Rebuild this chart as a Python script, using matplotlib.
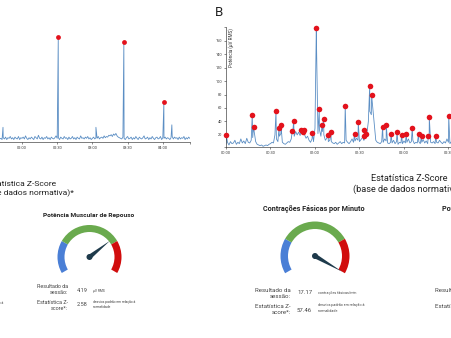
import numpy as np
import matplotlib
matplotlib.use("Agg")
import matplotlib.pyplot as plt
from matplotlib.patches import Wedge, Polygon, Circle
from matplotlib.ticker import FuncFormatter

plt.rcParams['font.family'] = ['Roboto', 'DejaVu Sans']

W, H = 451, 338

# --- session A (left trace), RMS power in uV, one sample per minute from 01:35
left_start = 95
left_base = [
    8, 6, 10, 7, 9, 11, 7, 8, 6, 9,
    7, 10, 6, 9, 8, 11, 7, 9, 6, 10,
    8, 7, 11, 6, 9, 8, 10, 7, 12, 8,
    6, 9, 7, 10, 8, 6, 11, 9, 7, 13,
    8, 7, 10, 6, 9, 8, 11, 7, 9, 6,
    10, 8, 7, 9, 12, 8, 9, 6, 10, 8,
    7, 11, 8, 9, 6, 10, 7, 8, 11, 7,
    9, 6, 10, 8, 7, 12, 8, 9, 7, 10,
    8, 11, 7, 9, 6, 8, 10, 7, 9, 8,
    11, 7, 9, 10, 8, 12, 9, 11, 10, 13,
    12, 14, 11, 15, 13, 16, 12, 10, 9, 8,
    7, 10, 8, 6, 9, 11, 7, 8, 10, 6,
    9, 7, 11, 8, 6, 10, 8, 7, 9, 12,
    7, 8, 10, 6, 9, 7, 11, 8, 6, 9,
    10, 7, 8, 11, 6, 9, 8, 10, 7, 9,
    8, 6, 9, 11, 7, 10, 8, 9, 6, 10,
    7, 9, 8, 11, 6, 9, 7, 10, 8,
]
left_minor_t = [103.8, 183.0, 247.7]
left_minor_v = [26, 26, 30]
left_peak_t = [150.9, 206.8, 240.9]
left_peak_v = [173, 165, 67]
left_ticks = [120, 150, 180, 210, 240]

# --- session B (right trace), one sample per minute from 00:00
right_base = [
    6, 9, 5, 10, 7, 8, 12, 6, 9, 7,
    14, 8, 11, 7, 15, 9, 8, 12, 16, 25,
    10, 6, 5, 4, 5, 3, 4, 5, 4, 6,
    7, 9, 8, 20, 14, 10, 18, 22, 9, 7,
    6, 8, 10, 9, 14, 22, 18, 25, 20, 24,
    19, 22, 26, 20, 15, 18, 12, 9, 14, 10,
    30, 160, 22, 28, 18, 25, 20, 12, 15, 10,
    12, 10, 8, 7, 9, 6, 8, 10, 7, 9,
    8, 12, 9, 7, 10, 14, 9, 11, 15, 12,
    10, 13, 16, 12, 18, 22, 40, 55, 50, 60,
    35, 12, 9, 8, 7, 10, 9, 14, 11, 8,
    7, 9, 8, 12, 7, 10, 6, 9, 8, 7,
    11, 8, 9, 14, 8, 10, 12, 7, 9, 8,
    10, 7, 9, 13, 8, 11, 7, 14, 9, 8,
    10, 7, 9, 8, 12, 9, 7, 10, 8, 14,
    9, 7, 10,
]
right_peak_t = [0.2, 17.7, 18.6, 33.7, 35.7, 37.1, 44.7, 45.6, 50.6, 51.6,
                52.6, 58.3, 60.9, 62.9, 64.7, 65.8, 68.9, 70.7, 80.4, 86.7,
                89.2, 92.8, 93.3, 94.4, 96.9, 98.2, 105.6, 108.1, 111.3, 115.3,
                118.4, 121.5, 125.6, 129.9, 131.9, 136.4, 137.1, 141.4, 150.2]
right_peak_v = [20, 50, 32, 55, 30, 34, 26, 41, 27, 25,
                28, 23, 179, 58, 34, 44, 20, 25, 63, 22,
                39, 19, 28, 21, 93, 79, 32, 34, 21, 25,
                20, 21, 30, 22, 19, 18, 46, 19, 48]
right_ticks = [0, 30, 60, 90, 120, 150]

# --- gauges
gauge_titles = ["Potência Muscular de Repouso", "Contrações Fásicas por Minuto"]
session_values = [4.19, 17.17]
session_units = ["μV RMS", "contrações fásicas/min"]
z_scores = [2.58, 57.46]
zone_edges = [-6, -3, 3, 6]
zone_colors = ["#4a7fd6", "#6aaa4e", "#d10d0d"]

line_color = "#5b8ec4"
dot_color = "#e3121c"
needle_color = "#1e3a4b"
text_color = "#222222"


def px_axes(fig, x0, y0, w, h):
    return fig.add_axes([x0 / W, 1 - (y0 + h) / H, w / W, h / H])


def build_trace(start, base, extra_t, extra_v):
    t = np.concatenate([start + np.arange(len(base)), extra_t])
    v = np.concatenate([base, extra_v])
    order = np.argsort(t)
    return t[order], v[order]


def hhmm(m, _pos=None):
    m = int(round(m))
    return f"{m // 60:02d}:{m % 60:02d}"


def style_trace_axis(ax, ticks):
    ax.set_facecolor("none")
    for s in ["top", "right"]:
        ax.spines[s].set_visible(False)
    for s in ["left", "bottom"]:
        ax.spines[s].set_linewidth(0.45)
        ax.spines[s].set_color("#333333")
    ax.set_xlim(0, 263)
    ax.set_ylim(2, 180)
    ax.set_xticks(ticks)
    ax.set_xticks([263], minor=True)
    ax.xaxis.set_major_formatter(FuncFormatter(hhmm))
    ax.xaxis.set_minor_formatter(FuncFormatter(lambda v, p: ""))
    ax.tick_params(which="both", length=1.6, width=0.4, color="#333333",
                   labelsize=2.8, pad=1.2, labelcolor="#333333")


fig = plt.figure(figsize=(W / 100, H / 100), dpi=100)
fig.patch.set_facecolor("white")

# left trace (its y axis sits outside the frame)
axl = px_axes(fig, -118.8, 33, 308.6, 109)
style_trace_axis(axl, left_ticks)
axl.set_yticks([])
tl, vl = build_trace(left_start, left_base,
                     left_minor_t + left_peak_t, left_minor_v + left_peak_v)
axl.plot(tl, vl, color=line_color, lw=0.6)
axl.scatter(left_peak_t, left_peak_v, s=12, color=dot_color, zorder=3,
            clip_on=False, linewidths=0)

# right trace
axr = px_axes(fig, 226, 27.3, 390, 119.7)
style_trace_axis(axr, right_ticks)
axr.set_yticks(np.arange(20, 161, 20))
axr.set_yticks([2, 180], minor=True)
axr.yaxis.set_minor_formatter(FuncFormatter(lambda v, p: ""))
tr, vr = build_trace(0, right_base, right_peak_t, right_peak_v)
axr.plot(tr, vr, color=line_color, lw=0.6)
axr.scatter(right_peak_t, right_peak_v, s=16, color=dot_color, zorder=3,
            clip_on=False, linewidths=0)


def angle_of(v):
    lo, hi = zone_edges[0], zone_edges[-1]
    v = min(max(v, lo), hi)
    return 210 - (v - lo) / (hi - lo) * 240


def draw_gauge(cx, cy, r_out, r_in, needle_len, z):
    g = px_axes(fig, cx - 40, cy - 40, 80, 80)
    g.set_xlim(-40, 40)
    g.set_ylim(-40, 40)
    g.axis("off")
    for lo, hi, c in zip(zone_edges[:-1], zone_edges[1:], zone_colors):
        g.add_patch(Wedge((0, 0), r_out, angle_of(hi), angle_of(lo),
                          width=r_out - r_in, color=c, lw=0))
    a = np.radians(angle_of(z))
    tip = (needle_len * np.cos(a), needle_len * np.sin(a))
    half = 2.3
    b1 = (-half * np.sin(a), half * np.cos(a))
    b2 = (half * np.sin(a), -half * np.cos(a))
    g.add_patch(Polygon([b1, tip, b2], closed=True, color=needle_color, lw=0))
    g.add_patch(Circle((0, 0), 3.0, color=needle_color, lw=0))


draw_gauge(89.5, 257, 32, 25, 26, z_scores[0])
draw_gauge(315, 256, 34.5, 27, 31, z_scores[1])

# text layer in pixel coordinates
bg = fig.add_axes([0, 0, 1, 1])
bg.set_xlim(0, W)
bg.set_ylim(H, 0)
bg.axis("off")


def put(x, y, s, size, ha="left", **kw):
    kw.setdefault("color", text_color)
    bg.text(x, y, s, fontsize=size, ha=ha, va="center", **kw)


put(215, 12.5, "B", 9.5)
bg.text(231, 28, "Potência (μV RMS)", fontsize=3.3, rotation=90,
        ha="center", va="top", color="#333333")

put(21, 184.5, "Estatística Z-Score", 6.1, ha="center")
put(21, 193.5, "(base de dados normativa)*", 6.1, ha="center")
put(409, 178.3, "Estatística Z-Score", 6.6, ha="center")
put(409, 189.3, "(base de dados normativa)*", 6.6, ha="center")

put(89, 215, gauge_titles[0], 4.65, ha="center", fontweight="bold")
put(314, 209, gauge_titles[1], 5.25, ha="center", fontweight="bold")
put(442, 209, gauge_titles[0], 5.25, fontweight="bold")

lab = "#444444"
# left gauge readout
put(68, 287, "Resultado da", 3.9, ha="right", color=lab)
put(68, 293, "sessão:", 3.9, ha="right", color=lab)
put(68, 302, "Estatística Z-", 3.9, ha="right", color=lab)
put(68, 308, "score*:", 3.9, ha="right", color=lab)
put(77, 290, f"{session_values[0]:.2f}", 4.0, color=lab)
put(77, 305, f"{z_scores[0]:.2f}", 4.0, color=lab)
put(93, 291, session_units[0], 2.4, color=lab)
put(93, 302, "desvios padrão em relação à", 2.4, color=lab)
put(93, 307, "normalidade", 2.4, color=lab)

# right gauge readout
put(291, 290, "Resultado da", 4.4, ha="right", color=lab)
put(291, 297, "sessão:", 4.4, ha="right", color=lab)
put(291, 307, "Estatística Z-", 4.4, ha="right", color=lab)
put(291, 313, "score*:", 4.4, ha="right", color=lab)
put(297, 293, f"{session_values[1]:.2f}", 4.3, color=lab)
put(297, 310, f"{z_scores[1]:.2f}", 4.3, color=lab)
put(318, 293, session_units[1], 2.6, color=lab)
put(318, 305, "desvios padrão em relação à", 2.6, color=lab)
put(318, 311, "normalidade", 2.6, color=lab)

# neighbouring panels cut by the frame
put(435, 290, "Resultado da", 4.4, color=lab)
put(435, 307, "Estatística Z-", 4.4, color=lab)
put(3, 303, "desvios padrão em relação à", 2.4, ha="right", color=lab)

fig.savefig("out.png", dpi=100, facecolor="white")
